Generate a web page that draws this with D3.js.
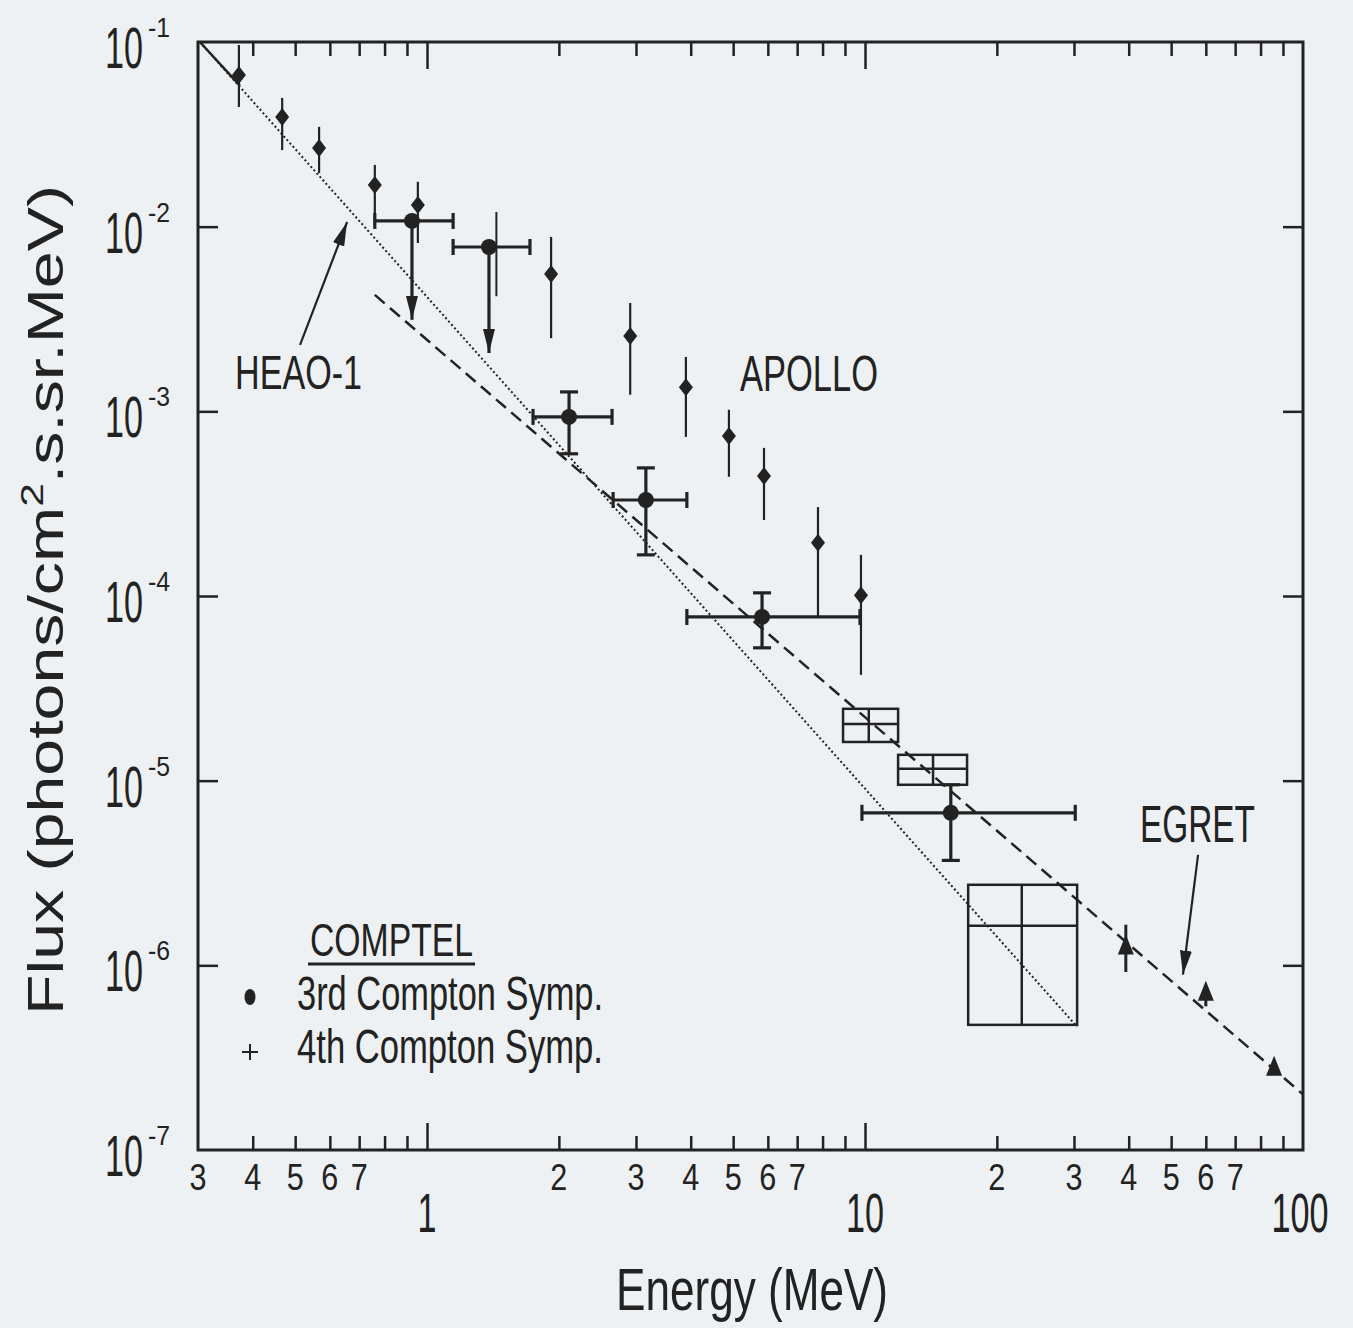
<!DOCTYPE html>
<html>
<head>
<meta charset="utf-8">
<script src="https://cdn.jsdelivr.net/npm/d3@7"></script>
<style>
  body { margin: 0; background: #eef1f4; }
  svg { display: block; }
  text { font-family: "Liberation Sans Narrow", "Liberation Sans", Arial, sans-serif; fill: #222; }
</style>
</head>
<body>
<svg id="chart" width="1353" height="1328"></svg>
<script>
// axis ticks (energy in MeV, flux)
const minorTicks = [0.4,0.5,0.6,0.7,0.8,0.9,2,3,4,5,6,7,8,9,20,30,40,50,60,70,80,90];
const majorTicks = [1, 10];
const minorLabelValues = [0.3,0.4,0.5,0.6,0.7,2,3,4,5,6,7,20,30,40,50,60,70];
const minorLabelText = ['3','4','5','6','7','2','3','4','5','6','7','2','3','4','5','6','7'];
const majorLabelValues = [1, 10, 100];
const majorLabelText = ['1', '10', '100'];
const fluxTicks = [1e-1, 1e-2, 1e-3, 1e-4, 1e-5, 1e-6, 1e-7];
const fluxTickExp = ['-1', '-2', '-3', '-4', '-5', '-6', '-7'];

// APOLLO
const apolloE    = [0.372, 0.467, 0.567, 0.76, 0.953, 1.92, 2.91, 3.90, 4.89, 5.88, 7.81, 9.79];
const apolloFlux = [0.0662, 0.0393, 0.0267, 0.0168, 0.0131, 0.00555, 0.00256, 0.00135, 0.000736, 0.000447, 0.000194, 0.000101];
const apolloHi   = [0.0963, 0.0498, 0.0347, 0.0216, 0.0175, 0.00879, 0.00386, 0.00197, 0.00102, 0.000634, 0.000303, 0.000167];
const apolloLo   = [0.0445, 0.026, 0.0195, 0.0102, 0.00816, 0.00249, 0.00123, 0.000727, 0.000442, 0.000258, 0.000077, 0.0000374];

// COMPTEL, 3rd Compton Symposium
const c3E      = [0.924, 1.385, 2.11, 3.16, 5.82, 15.7];
const c3ELo    = [0.76, 1.147, 1.746, 2.66, 3.92, 9.84];
const c3EHi    = [1.147, 1.718, 2.645, 3.92, 9.74, 30.2];
const c3Flux   = [0.01074, 0.00776, 0.000933, 0.000331, 0.000077, 0.0000067];
const c3FluxHi = [0.01074, 0.00776, 0.001274, 0.000494, 0.000104, 0.0000095];
const c3FluxLo = [0.00313, 0.00207, 0.000589, 0.000167, 0.0000524, 0.0000037];
const c3Limit  = [true, true, false, false, false, false];

// COMPTEL, 4th Compton Symposium
const c4E      = [10.2, 14.3, 22.8];
const c4ELo    = [8.91, 11.9, 17.2];
const c4EHi    = [11.9, 17.1, 30.5];
const c4Flux   = [0.0000203, 0.0000116, 0.00000164];
const c4FluxLo = [0.0000162, 0.0000095, 0.000000476];
const c4FluxHi = [0.0000245, 0.0000138, 0.00000273];
const c4BarE   = [1.44];
const c4BarHi  = [0.012];
const c4BarLo  = [0.0042];

// EGRET
const egretE    = [39.4, 60.0, 85.9];
const egretFlux = [0.00000128, 0.00000072, 0.000000282];
const egretHi   = [0.00000166, 0.00000072, 0.000000282];
const egretLo   = [0.00000092, 0.0000006, 0.000000282];

// fitted spectra
const heaoE = [0.303, 30.5];
const heaoFlux = [0.1, 0.000000465];
const heaoSolidE = [0.303, 0.374];
const heaoSolidFlux = [0.1, 0.058];
const dashE = [0.76, 100];
const dashFlux = [0.00427, 0.0000002];

// annotation arrows
const heaoArrowE = [0.513, 0.657];
const heaoArrowFlux = [0.00229, 0.0106];
const egretArrowE = [57.6, 53.2];
const egretArrowFlux = [0.00000396, 0.00000089];

const ink = '#222';

let svg = d3.select('#chart');

const x = d3.scaleLog().domain([0.3, 100]).range([198, 1303]);
const y = d3.scaleLog().domain([1e-1, 1e-7]).range([42, 1150]);

const zip = (xs, ys) => xs.map((d, i) => [d, ys[i]]);
const line = d3.line().x(d => x(d[0])).y(d => y(d[1]));

// frame
svg.append('rect')
  .attr('x', x(0.3)).attr('y', y(1e-1))
  .attr('width', x(100) - x(0.3)).attr('height', y(1e-7) - y(1e-1))
  .attr('fill', 'none').attr('stroke', ink).attr('stroke-width', 3)
  ;

function styleAxis(g){
  g.select('.domain').remove();
  g.selectAll('line').attr('stroke', ink).attr('stroke-width', 2.5);
}

// bottom / top ticks (inward)
svg.append('g').attr('transform', `translate(0,${y(1e-7)})`)
  .call(d3.axisBottom(x).tickValues(minorTicks).tickSize(-14).tickFormat(''))
  .call(styleAxis);
svg.append('g').attr('transform', `translate(0,${y(1e-7)})`)
  .call(d3.axisBottom(x).tickValues(majorTicks).tickSize(-27).tickFormat(''))
  .call(styleAxis);
svg.append('g').attr('transform', `translate(0,${y(1e-1)})`)
  .call(d3.axisTop(x).tickValues(minorTicks).tickSize(-14).tickFormat(''))
  .call(styleAxis);
svg.append('g').attr('transform', `translate(0,${y(1e-1)})`)
  .call(d3.axisTop(x).tickValues(majorTicks).tickSize(-27).tickFormat(''))
  .call(styleAxis);

// left / right ticks
svg.append('g').attr('transform', `translate(${x(0.3)},0)`)
  .call(d3.axisLeft(y).tickValues(fluxTicks.slice(1, -1)).tickSize(-20).tickFormat(''))
  .call(styleAxis);
svg.append('g').attr('transform', `translate(${x(100)},0)`)
  .call(d3.axisRight(y).tickValues(fluxTicks.slice(1, -1)).tickSize(-20).tickFormat(''))
  .call(styleAxis);

// x tick labels
svg.append('g').selectAll('text')
  .data(minorLabelValues)
  .enter()
  .append('text')
    .attr('x', d => x(d)).attr('y', 1190)
    .attr('text-anchor', 'middle')
    .attr('font-size', 36)
    .attr('textLength', 17).attr('lengthAdjust', 'spacingAndGlyphs')
    .text((d, i) => minorLabelText[i])
    ;

svg.append('g').selectAll('text')
  .data(majorLabelValues)
  .enter()
  .append('text')
    .attr('x', d => Math.min(x(d), 1300)).attr('y', 1232)
    .attr('text-anchor', 'middle')
    .attr('font-size', 56)
    .attr('textLength', (d, i) => majorLabelText[i].length * 19)
    .attr('lengthAdjust', 'spacingAndGlyphs')
    .text((d, i) => majorLabelText[i])
    ;

// y tick labels
let yLab = svg.append('g').selectAll('g')
  .data(fluxTicks)
  .enter()
  .append('g')
  ;
yLab.append('text')
  .attr('x', 105).attr('y', d => y(d) + 26)
  .attr('font-size', 58)
  .attr('textLength', 38).attr('lengthAdjust', 'spacingAndGlyphs')
  .text('10')
  ;
yLab.append('text')
  .attr('x', 148).attr('y', d => y(d) - 5)
  .attr('font-size', 28)
  .attr('textLength', 22).attr('lengthAdjust', 'spacingAndGlyphs')
  .text((d, i) => fluxTickExp[i])
  ;

// axis titles
svg.append('text')
  .attr('x', 752).attr('y', 1310)
  .attr('text-anchor', 'middle')
  .attr('font-size', 60)
  .attr('textLength', 272).attr('lengthAdjust', 'spacingAndGlyphs')
  .text('Energy (MeV)')
  ;

let yTitle = svg.append('text')
  .attr('transform', 'translate(63,600) rotate(-90)')
  .attr('text-anchor', 'middle')
  .attr('font-size', 50)
  .style('font-family', '"Liberation Sans", Arial, sans-serif')
  .attr('textLength', 830).attr('lengthAdjust', 'spacingAndGlyphs')
  ;
yTitle.append('tspan').text('Flux (photons/cm');
yTitle.append('tspan').attr('dy', -20).attr('font-size', 32).text('2');
yTitle.append('tspan').attr('dy', 20).text('.s.sr.MeV)');

// spectra lines
svg.append('path')
  .attr('d', line(zip(heaoE, heaoFlux)))
  .attr('fill', 'none').attr('stroke', ink).attr('stroke-width', 2)
  .attr('stroke-dasharray', '2,2.5')
  ;
svg.append('path')
  .attr('d', line(zip(heaoSolidE, heaoSolidFlux)))
  .attr('fill', 'none').attr('stroke', ink).attr('stroke-width', 2.5)
  ;
svg.append('path')
  .attr('d', line(zip(dashE, dashFlux)))
  .attr('fill', 'none').attr('stroke', ink).attr('stroke-width', 2.5)
  .attr('stroke-dasharray', '13,7')
  ;

// arrowhead marker
svg.append('defs').append('marker')
  .attr('id', 'head')
  .attr('viewBox', '0 0 20 10')
  .attr('refX', 20).attr('refY', 5)
  .attr('markerWidth', 24).attr('markerHeight', 12)
  .attr('markerUnits', 'userSpaceOnUse')
  .attr('orient', 'auto')
  .append('path').attr('d', 'M0,0 L20,5 L0,10 Z').attr('fill', ink)
  ;

// APOLLO
let apollo = svg.append('g')
  .selectAll('g')
  .data(apolloE)
  .enter()
  .append('g')
  ;
apollo.append('line')
  .attr('x1', d => x(d)).attr('x2', d => x(d))
  .attr('y1', (d, i) => y(apolloHi[i])).attr('y2', (d, i) => y(apolloLo[i]))
  .attr('stroke', ink).attr('stroke-width', 2.2)
  ;
apollo.append('path')
  .attr('transform', (d, i) => `translate(${x(d)},${y(apolloFlux[i])})`)
  .attr('d', 'M0,-9 L7,0 L0,9 L-7,0 Z')
  .attr('fill', ink)
  ;

// COMPTEL 4th symp. thin bar
svg.append('g').selectAll('line')
  .data(c4BarE)
  .enter()
  .append('line')
    .attr('x1', d => x(d)).attr('x2', d => x(d))
    .attr('y1', (d, i) => y(c4BarHi[i])).attr('y2', (d, i) => y(c4BarLo[i]))
    .attr('stroke', ink).attr('stroke-width', 2)
    ;

// COMPTEL 3rd symp.
let c3 = svg.append('g')
  .selectAll('g')
  .data(c3E)
  .enter()
  .append('g')
  .attr('stroke', ink)
  .attr('stroke-width', 3.2)
  ;
c3.append('line')
  .attr('x1', (d, i) => x(c3ELo[i])).attr('x2', (d, i) => x(c3EHi[i]))
  .attr('y1', (d, i) => y(c3Flux[i])).attr('y2', (d, i) => y(c3Flux[i]))
  ;
c3.append('line')
  .attr('x1', (d, i) => x(c3ELo[i])).attr('x2', (d, i) => x(c3ELo[i]))
  .attr('y1', (d, i) => y(c3Flux[i]) - 8).attr('y2', (d, i) => y(c3Flux[i]) + 8)
  ;
c3.append('line')
  .attr('x1', (d, i) => x(c3EHi[i])).attr('x2', (d, i) => x(c3EHi[i]))
  .attr('y1', (d, i) => y(c3Flux[i]) - 8).attr('y2', (d, i) => y(c3Flux[i]) + 8)
  ;
c3.append('line')
  .attr('x1', d => x(d)).attr('x2', d => x(d))
  .attr('y1', (d, i) => y(c3FluxHi[i])).attr('y2', (d, i) => y(c3FluxLo[i]))
  .attr('marker-end', (d, i) => c3Limit[i] ? 'url(#head)' : null)
  ;
c3.filter((d, i) => !c3Limit[i])
  .each(function(d){
    let i = c3E.indexOf(d);
    let g = d3.select(this);
    [c3FluxHi[i], c3FluxLo[i]].forEach(v => {
      g.append('line')
        .attr('x1', x(d) - 9).attr('x2', x(d) + 9)
        .attr('y1', y(v)).attr('y2', y(v))
        ;
    });
  });
c3.append('circle')
  .attr('cx', d => x(d)).attr('cy', (d, i) => y(c3Flux[i]))
  .attr('r', 8)
  .attr('fill', ink).attr('stroke', 'none')
  ;

// COMPTEL 4th symp. boxes
let c4 = svg.append('g')
  .selectAll('g')
  .data(c4E)
  .enter()
  .append('g')
  .attr('stroke', ink)
  .attr('stroke-width', 2.5)
  .attr('fill', 'none')
  ;
c4.append('rect')
  .attr('x', (d, i) => x(c4ELo[i])).attr('y', (d, i) => y(c4FluxHi[i]))
  .attr('width', (d, i) => x(c4EHi[i]) - x(c4ELo[i]))
  .attr('height', (d, i) => y(c4FluxLo[i]) - y(c4FluxHi[i]))
  ;
c4.append('line')
  .attr('x1', d => x(d)).attr('x2', d => x(d))
  .attr('y1', (d, i) => y(c4FluxHi[i])).attr('y2', (d, i) => y(c4FluxLo[i]))
  ;
c4.append('line')
  .attr('x1', (d, i) => x(c4ELo[i])).attr('x2', (d, i) => x(c4EHi[i]))
  .attr('y1', (d, i) => y(c4Flux[i])).attr('y2', (d, i) => y(c4Flux[i]))
  ;

// EGRET
let egret = svg.append('g')
  .selectAll('g')
  .data(egretE)
  .enter()
  .append('g')
  ;
egret.append('line')
  .attr('x1', d => x(d)).attr('x2', d => x(d))
  .attr('y1', (d, i) => y(egretHi[i])).attr('y2', (d, i) => y(egretLo[i]))
  .attr('stroke', ink).attr('stroke-width', 3)
  ;
egret.append('path')
  .attr('transform', (d, i) => `translate(${x(d)},${y(egretFlux[i])})`)
  .attr('d', 'M0,-11 L8,9 L-8,9 Z')
  .attr('fill', ink)
  ;

// annotations
svg.append('path')
  .attr('d', line(zip(heaoArrowE, heaoArrowFlux)))
  .attr('stroke', ink).attr('stroke-width', 2.2)
  .attr('marker-end', 'url(#head)')
  ;
svg.append('path')
  .attr('d', line(zip(egretArrowE, egretArrowFlux)))
  .attr('stroke', ink).attr('stroke-width', 2.2)
  .attr('marker-end', 'url(#head)')
  ;

const notes = [
  { t: 'HEAO-1', x: 235, y: 389, s: 49, w: 127 },
  { t: 'APOLLO', x: 740, y: 391, s: 50, w: 138 },
  { t: 'EGRET', x: 1140, y: 842, s: 51, w: 115 },
  { t: 'COMPTEL', x: 310, y: 956, s: 46, w: 163 },
  { t: '3rd Compton Symp.', x: 297, y: 1010, s: 48, w: 306 },
  { t: '4th Compton Symp.', x: 297, y: 1063, s: 48, w: 306 }
];
svg.append('g').selectAll('text')
  .data(notes)
  .enter()
  .append('text')
    .attr('x', d => d.x).attr('y', d => d.y)
    .attr('font-size', d => d.s)
    .attr('textLength', d => d.w).attr('lengthAdjust', 'spacingAndGlyphs')
    .text(d => d.t)
    ;

// legend symbols
svg.append('line')
  .attr('x1', 308).attr('x2', 475).attr('y1', 964).attr('y2', 964)
  .attr('stroke', ink).attr('stroke-width', 3)
  ;
svg.append('ellipse')
  .attr('cx', 250).attr('cy', 997).attr('rx', 5.5).attr('ry', 8)
  .attr('fill', ink)
  ;
svg.append('path')
  .attr('d', 'M242,1052 H258 M250,1044 V1060')
  .attr('stroke', ink).attr('stroke-width', 2)
  ;
</script>
</body>
</html>
